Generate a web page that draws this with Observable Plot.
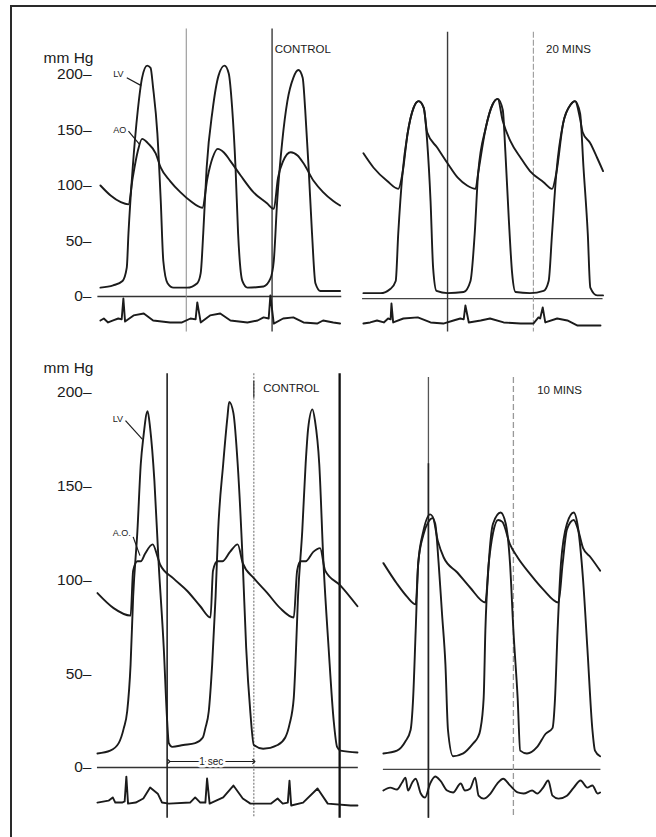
<!DOCTYPE html>
<html><head><meta charset="utf-8">
<script src="https://cdn.jsdelivr.net/npm/d3@7"></script>
<script src="https://cdn.jsdelivr.net/npm/@observablehq/plot@0.6"></script>
<style>
body{margin:0;background:#fff;}
#fig{position:relative;width:656px;height:837px;overflow:hidden;font-family:"Liberation Sans",Arial,sans-serif;}
#frame{position:absolute;left:10px;top:5px;width:700px;height:900px;border-left:2px solid #2a2a2a;border-top:2px solid #2a2a2a;}
#top,#bottom{position:absolute;left:0;}
#top{top:0px}#bottom{top:340px}
svg{overflow:visible}
</style></head><body>
<div id="fig"><div id="frame"></div><div id="top"></div><div id="bottom"></div></div>
<script>
// ---------- DATA (time in s from start of each recording, pressure in mm Hg, ECG in mV-like units) ----------
const yTicks = [0, 50, 100, 150, 200];
const stateLabels = {topLeft: "CONTROL", topRight: "20 MINS", bottomLeft: "CONTROL", bottomRight: "10 MINS"};
const traceLabels = {lv: "LV", ao: "AO", aoDots: "A.O.", sec: "1 sec", unit: "mm Hg"};

// Top panel, control
const topCtrlLV = [[0,8],[0.15,10],[0.26,14],[0.31,26],[0.33,57],[0.38,116],[0.44,168],[0.49,197],[0.55,208],[0.59,206],[0.62,188],[0.67,147],[0.71,86],[0.74,32],[0.79,12],[0.86,8],[1.02,8],[1.14,12],[1.18,21],[1.21,57],[1.25,116],[1.32,168],[1.39,199],[1.46,208],[1.51,201],[1.55,170],[1.59,116],[1.62,57],[1.67,14],[1.73,8],[1.92,9],[2.0,16],[2.04,32],[2.08,86],[2.14,140],[2.2,176],[2.27,197],[2.33,204],[2.38,197],[2.41,168],[2.45,116],[2.49,57],[2.53,12],[2.59,5],[2.82,5]];
const topCtrlAO = [[0,100],[0.12,91],[0.24,85],[0.33,83],[0.38,107],[0.44,131],[0.49,142],[0.56,138],[0.65,129],[0.71,116],[0.82,104],[0.94,94],[1.06,86],[1.2,80],[1.26,107],[1.32,125],[1.38,133],[1.45,130],[1.53,122],[1.65,109],[1.8,94],[1.96,84],[2.04,79],[2.09,107],[2.15,122],[2.24,130],[2.32,127],[2.39,120],[2.51,104],[2.62,94],[2.74,86],[2.82,82]];
const topCtrlECG = [[0,0],[0.04,0.09],[0.09,-0.09],[0.15,0],[0.21,0.09],[0.25,0.05],[0.27,1.0],[0.29,-0.05],[0.39,0.23],[0.51,0.32],[0.62,0],[0.82,-0.09],[0.96,-0.09],[1.06,0.09],[1.12,0.05],[1.14,0.82],[1.18,-0.09],[1.29,0.23],[1.41,0.32],[1.53,0],[1.73,-0.09],[1.85,0],[1.92,0.14],[1.98,0.09],[2.0,1.14],[2.04,-0.14],[2.15,0.09],[2.27,0.14],[2.39,-0.09],[2.55,-0.14],[2.62,0],[2.74,-0.09],[2.82,-0.14]];
const topCtrlMarks = [1.01, 2.02];

// Top panel, 20 min
const top20LV = [[0,3],[0.2,3],[0.32,7],[0.38,14],[0.41,57],[0.46,111],[0.52,147],[0.59,170],[0.65,176],[0.71,170],[0.75,140],[0.79,86],[0.82,26],[0.86,5],[0.99,3],[1.18,4],[1.26,14],[1.31,57],[1.35,111],[1.44,152],[1.52,173],[1.58,178],[1.64,168],[1.67,131],[1.71,71],[1.75,21],[1.79,4],[1.96,3],[2.12,5],[2.18,14],[2.22,57],[2.27,111],[2.35,156],[2.44,173],[2.49,176],[2.55,165],[2.59,116],[2.64,57],[2.67,8],[2.75,1],[2.82,1]];
const top20AO = [[0,129],[0.12,116],[0.28,104],[0.41,97],[0.46,111],[0.52,147],[0.59,170],[0.65,176],[0.71,170],[0.75,148],[0.87,134],[0.99,120],[1.11,107],[1.22,100],[1.32,97],[1.35,111],[1.44,152],[1.52,173],[1.58,178],[1.64,158],[1.73,140],[1.85,125],[1.96,113],[2.12,103],[2.22,97],[2.27,111],[2.35,156],[2.44,173],[2.49,176],[2.55,160],[2.58,148],[2.67,138],[2.75,125],[2.82,113]];
const top20ECG = [[0,-0.14],[0.08,-0.09],[0.16,0],[0.24,-0.09],[0.29,0.09],[0.32,0.05],[0.33,0.77],[0.35,-0.09],[0.47,0.09],[0.64,0.14],[0.79,-0.09],[0.94,-0.14],[1.06,0],[1.14,0.09],[1.18,0.05],[1.2,0.68],[1.24,-0.09],[1.38,0],[1.49,0.09],[1.65,-0.09],[1.85,-0.14],[2.0,-0.14],[2.06,0.14],[2.08,0.09],[2.11,0.59],[2.14,-0.09],[2.28,0.09],[2.4,0],[2.52,-0.23],[2.67,-0.23],[2.79,-0.23]];
const top20Marks = [0.99, 2.0];

// Bottom panel, control
const botCtrlLV = [[0,7.5],[0.15,9],[0.25,13],[0.31,21],[0.35,30],[0.39,55],[0.42,91],[0.47,126],[0.51,162],[0.54,176],[0.59,190],[0.62,181],[0.67,153],[0.72,109],[0.78,64],[0.82,25],[0.84,13],[0.88,11],[1.01,12],[1.15,13],[1.24,16],[1.27,21],[1.31,30],[1.35,55],[1.39,91],[1.42,126],[1.48,162],[1.53,187],[1.55,195],[1.6,189],[1.65,162],[1.71,109],[1.75,64],[1.8,29],[1.84,12],[1.95,10],[2.12,12],[2.21,16],[2.26,23],[2.31,37],[2.33,55],[2.36,91],[2.41,126],[2.45,162],[2.48,181],[2.53,191],[2.56,185],[2.61,162],[2.66,109],[2.72,64],[2.78,25],[2.82,11],[2.86,9],[3.06,8]];
const botCtrlAO = [[0,93],[0.19,85],[0.39,81],[0.42,105],[0.47,110],[0.51,110],[0.56,114],[0.65,119],[0.71,112],[0.74,108],[0.89,101],[1.06,94],[1.21,86],[1.33,80],[1.36,105],[1.41,110],[1.47,110],[1.56,115],[1.65,119],[1.71,109],[1.84,101],[2.0,93],[2.15,85],[2.31,80],[2.35,105],[2.39,110],[2.45,110],[2.54,115],[2.62,117],[2.68,105],[2.86,97],[3.06,86]];
const botCtrlECG = [[0,0],[0.13,0.07],[0.18,0.19],[0.21,0],[0.29,0],[0.32,0.04],[0.34,0.96],[0.36,-0.04],[0.45,0],[0.54,0.15],[0.62,0.56],[0.71,0.33],[0.76,0],[0.84,-0.04],[1.09,0],[1.15,0.19],[1.21,0],[1.27,0],[1.29,0.89],[1.32,-0.04],[1.48,0.19],[1.6,0.63],[1.71,0.15],[1.8,-0.04],[2.04,-0.04],[2.12,0.15],[2.18,-0.04],[2.24,0],[2.26,0.81],[2.28,-0.11],[2.42,0],[2.59,0.52],[2.71,-0.04],[2.98,-0.11],[3.06,-0.11]];
const botCtrlMarks = [0.82, 1.84, 2.85];
const oneSecond = [0.84, 1.84];

// Bottom panel, 10 min
const bot10LV = [[0,7.5],[0.16,9],[0.26,14],[0.32,20],[0.35,37],[0.38,73],[0.41,109],[0.47,126],[0.55,135],[0.61,130],[0.65,109],[0.69,82],[0.73,55],[0.76,20],[0.82,6],[0.94,7.5],[1.06,13],[1.11,16],[1.14,20],[1.18,37],[1.2,73],[1.24,109],[1.29,130],[1.38,136],[1.44,130],[1.49,109],[1.53,73],[1.58,37],[1.61,9],[1.69,7.5],[1.81,11],[1.91,18],[1.99,21],[2.02,37],[2.05,73],[2.09,109],[2.16,130],[2.24,136],[2.29,128],[2.35,100],[2.4,64],[2.46,20],[2.49,9],[2.55,6]];
const bot10AO = [[0,109],[0.16,98],[0.28,91],[0.38,87],[0.41,109],[0.47,124],[0.53,131],[0.58,133],[0.64,121],[0.71,112],[0.87,104],[1.02,96],[1.2,88],[1.24,109],[1.29,125],[1.35,132],[1.4,131],[1.49,119],[1.58,112],[1.73,103],[1.88,95],[2.06,88],[2.11,109],[2.16,127],[2.24,132],[2.29,127],[2.35,117],[2.44,112],[2.55,105]];
const bot10ECG = [[0,0],[0.08,0.11],[0.16,0.04],[0.22,0.3],[0.26,0.48],[0.29,0],[0.34,0.3],[0.38,0.44],[0.44,-0.11],[0.49,-0.26],[0.55,0.26],[0.61,0.52],[0.67,0.37],[0.75,0],[0.82,-0.07],[0.91,0.26],[0.96,0],[1.02,0.07],[1.08,0.48],[1.12,-0.19],[1.18,-0.3],[1.26,-0.11],[1.34,0.26],[1.41,0.44],[1.49,0.19],[1.58,-0.07],[1.65,-0.11],[1.75,0],[1.81,-0.11],[1.88,0.11],[1.94,0.37],[1.99,-0.19],[2.06,-0.3],[2.16,-0.19],[2.24,0.11],[2.32,0.37],[2.4,0.11],[2.46,0.19],[2.52,-0.11],[2.55,-0.07]];
const bot10Marks = [0.53, 1.53];

// ---------- LAYOUT ----------
const ink = "#1b1b1b";
const stripSeconds = 7.72;      // width of the strip shown
const pts = a => a.map(([t, v]) => ({t, v}));
const font = '"Liberation Sans", Arial, sans-serif';

function trace(data, off, extra = {}) {
  return Plot.line(pts(data), {x: d => off + d.t, y: "v", stroke: ink, strokeWidth: 1.9, curve: "monotone-x", ...extra});
}
function ecg(data, off, base, gain, curve = "linear") {
  return Plot.line(pts(data), {x: d => off + d.t, y: d => base + gain * d.v, stroke: ink, strokeWidth: 1.9, curve, strokeLinejoin: "round"});
}
function marks(times, off, y1, y2, styles) {
  return times.map((t, i) => Plot.ruleX([t], {x: d => off + d, y1, y2, ...styles[i]}));
}
const tickAxis = () => Plot.axisY({ticks: yTicks, tickSize: 0, tickPadding: 0, dx: 91, tickFormat: d => `${d}–`, label: null, fontSize: 15.5, fill: ink, letterSpacing: "1px"});
const smallCaps = {fontSize: 11.5, fill: ink, textAnchor: "start", letterSpacing: "0.6px"};

// ---------- TOP PANEL ----------
{
  const offL = 1.176, offR = 4.271;
  const ecgBase = -21.6, ecgGain = 19.8;
  const p = Plot.plot({
    width: 656, height: 340, marginLeft: 0, marginRight: 0, marginTop: 74, marginBottom: 44,
    style: {fontFamily: font, background: "transparent", overflow: "visible"},
    x: {domain: [0, stripSeconds], axis: null},
    y: {domain: [0, 200], axis: null},
    marks: [
      tickAxis(),
      Plot.text([traceLabels.unit], {frameAnchor: "top-left", dx: 93, dy: -23, textAnchor: "end", fontSize: 15.5, fill: ink, letterSpacing: "0.5px"}),
      Plot.ruleY([0], {x1: offL - 0.03, x2: offL + 2.84, stroke: "#333", strokeWidth: 1.5}),
      Plot.ruleY([-2], {x1: offR - 0.01, x2: offR + 2.82, stroke: "#444", strokeWidth: 1.3}),
      ...marks(topCtrlMarks, offL, 241, -32, [{stroke: "#8a8a8a", strokeWidth: 1}, {stroke: "#3a3a3a", strokeWidth: 1.4}]),
      ...marks(top20Marks, offR, 238, -32, [{stroke: "#3a3a3a", strokeWidth: 1.4}, {stroke: "#9a9a9a", strokeWidth: 1.1, strokeDasharray: "6,2"}]),
      trace(topCtrlAO, offL), trace(topCtrlLV, offL),
      trace(top20AO, offR), trace(top20LV, offR),
      ecg(topCtrlECG, offL, ecgBase, ecgGain),
      ecg(top20ECG, offR, ecgBase, ecgGain),
      Plot.text([stateLabels.topLeft], {x: offL + 2.05, y: 223, ...smallCaps}),
      Plot.text([stateLabels.topRight], {x: offR + 2.15, y: 223, ...smallCaps, letterSpacing: "1.2px"}),
      Plot.text([traceLabels.lv], {x: offL + 0.15, y: 200, textAnchor: "start", fontSize: 9, fill: ink}),
      Plot.link([0], {x1: offL + 0.31, y1: 197, x2: offL + 0.48, y2: 190, stroke: ink, strokeWidth: 1.2}),
      Plot.text([traceLabels.ao], {x: offL + 0.15, y: 150, textAnchor: "start", fontSize: 9, fill: ink}),
      Plot.link([0], {x1: offL + 0.33, y1: 149, x2: offL + 0.46, y2: 137, stroke: ink, strokeWidth: 1.2})
    ]
  });
  document.getElementById("top").append(p);
}

// ---------- BOTTOM PANEL ----------
{
  const offL = 1.141, offR = 4.506;
  const p = Plot.plot({
    width: 656, height: 497, marginLeft: 0, marginRight: 0, marginTop: 52, marginBottom: 70,
    style: {fontFamily: font, background: "transparent", overflow: "visible"},
    x: {domain: [0, stripSeconds], axis: null},
    y: {domain: [0, 200], axis: null},
    marks: [
      tickAxis(),
      Plot.text([traceLabels.unit], {frameAnchor: "top-left", dx: 93, dy: -31, textAnchor: "end", fontSize: 15.5, fill: ink, letterSpacing: "0.5px"}),
      Plot.ruleY([0], {x1: offL, x2: offL + 3.07, stroke: "#333", strokeWidth: 1.5}),
      Plot.ruleY([-1], {x1: offR, x2: offR + 2.56, stroke: "#444", strokeWidth: 1.4}),
      ...marks(botCtrlMarks, offL, 210, -27, [
        {stroke: "#222", strokeWidth: 1.6},
        {stroke: "#8a8a8a", strokeWidth: 1.3, strokeDasharray: "2,1.5"},
        {stroke: "#111", strokeWidth: 2.3}]),
      ...marks(bot10Marks, offR, 208, -27, [
        {stroke: "#555", strokeWidth: 1.3},
        {stroke: "#999", strokeWidth: 1.3, strokeDasharray: "6,3"}]),
      Plot.ruleX([bot10Marks[0]], {x: d => offR + d, y1: 162, y2: -27, stroke: "#222", strokeWidth: 1.6}),
      trace(botCtrlAO, offL), trace(botCtrlLV, offL),
      trace(bot10AO, offR), trace(bot10LV, offR),
      ecg(botCtrlECG, offL, -18.7, 14.4),
      ecg(bot10ECG, offR, -12.3, 14.4, "monotone-x"),
      Plot.link([oneSecond], {x1: d => offL + d[0], x2: d => offL + d[1], y1: 3.2, y2: 3.2, stroke: ink, strokeWidth: 1.1, markerStart: "arrow", markerEnd: "arrow"}),
      Plot.text([traceLabels.sec], {x: offL + (oneSecond[0] + oneSecond[1]) / 2, y: 3.2, fontSize: 10, fill: ink, stroke: "white", strokeWidth: 5, paintOrder: "stroke"}),
      Plot.text([stateLabels.bottomLeft], {x: offL + 1.95, y: 202, ...smallCaps, letterSpacing: "1px"}),
      Plot.ruleX([1.84], {x: d => offL + d, y1: 206, y2: 197, stroke: "#333", strokeWidth: 1.2}),
      Plot.text([stateLabels.bottomRight], {x: offR + 1.81, y: 201, ...smallCaps, letterSpacing: "1.1px"}),
      Plot.text([traceLabels.lv], {x: offL + 0.18, y: 186, textAnchor: "start", fontSize: 9, fill: ink}),
      Plot.link([0], {x1: offL + 0.33, y1: 185, x2: offL + 0.53, y2: 175, stroke: ink, strokeWidth: 1.2}),
      Plot.text([traceLabels.aoDots], {x: offL + 0.18, y: 125, textAnchor: "start", fontSize: 9, fill: ink}),
      Plot.link([0], {x1: offL + 0.42, y1: 123, x2: offL + 0.5, y2: 113, stroke: ink, strokeWidth: 1.2})
    ]
  });
  document.getElementById("bottom").append(p);
}
</script>
</body></html>
